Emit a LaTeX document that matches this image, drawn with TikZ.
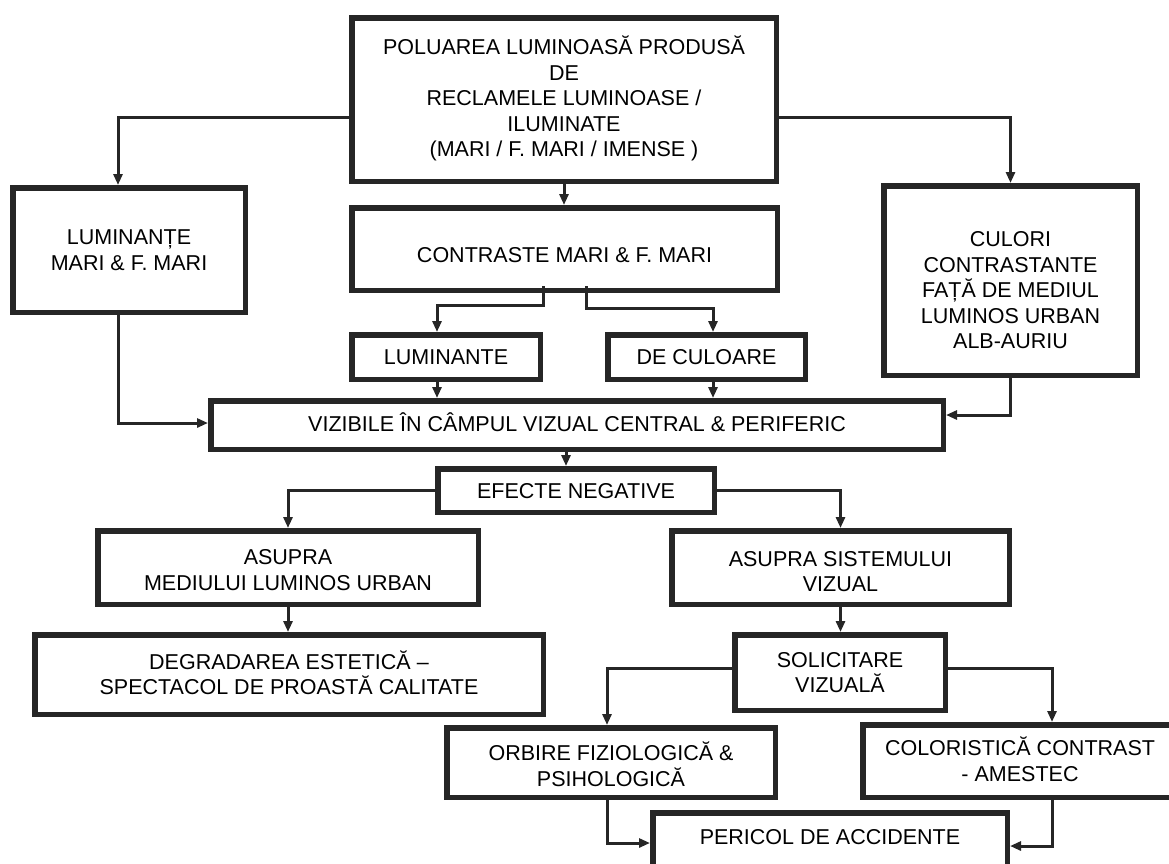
\documentclass[tikz,border=0pt]{standalone}
\usepackage{fontspec}
\setmainfont{Liberation Sans}
\usetikzlibrary{arrows.meta}
\newcommand\hs[1]{\rule{0pt}{#1pt}}
\newcommand\ds{\rule[-6pt]{0pt}{0pt}}
\tikzset{
  box/.style={draw=black!85, line width=5.5pt, inner sep=0pt, align=center,
    font=\fontsize{21.5pt}{25.5pt}\selectfont, text=black},
  arr/.style={draw=black!85, line width=3pt, -{Triangle[length=11pt,width=9pt]}}
}
\begin{document}
\begin{tikzpicture}[x=1pt,y=-1pt]
\useasboundingbox (0,0) rectangle (1169,863);
\fill[white] (0,0) rectangle (1169,863);

\node[box, minimum width=424.5pt, minimum height=163.5pt] (top) at (564,99.5)
  {\hs{17}POLUAREA LUMINOASĂ PRODUSĂ\\DE\\RECLAMELE LUMINOASE /\\ILUMINATE\\(MARI / F. MARI / IMENSE )\ds};
\node[box, minimum width=232.5pt, minimum height=124.5pt] (lum) at (129,250)
  {\hs{21}LUMINANȚE\\MARI \& F. MARI\ds};
\node[box, minimum width=253.5pt, minimum height=189.5pt] (cul) at (1010.5,280.5)
  {\hs{40}CULORI\\CONTRASTANTE\\FAȚĂ DE MEDIUL\\LUMINOS URBAN\\ALB-AURIU\ds};
\node[box, minimum width=425.5pt, minimum height=82.5pt] (contr) at (564.5,249)
  {\hs{33}CONTRASTE MARI \& F. MARI\ds};
\node[box, minimum width=188.5pt, minimum height=44.5pt] (lumte) at (446,357)
  {\hs{21}LUMINANTE\ds};
\node[box, minimum width=197.5pt, minimum height=44.5pt] (decul) at (706.5,357)
  {\hs{21}DE CULOARE\ds};
\node[box, minimum width=732.5pt, minimum height=48.5pt] (viz) at (577,425)
  {\hs{17}VIZIBILE ÎN CÂMPUL VIZUAL CENTRAL \& PERIFERIC\ds};
\node[box, minimum width=276.5pt, minimum height=43.5pt] (efe) at (576,490.5)
  {\hs{21}EFECTE NEGATIVE\ds};
\node[box, minimum width=380.5pt, minimum height=73.5pt] (asm) at (288,567.5)
  {\hs{26}ASUPRA\\MEDIULUI LUMINOS URBAN\ds};
\node[box, minimum width=337.5pt, minimum height=73.5pt] (ass) at (840.5,567.5)
  {\hs{29}ASUPRA SISTEMULUI\\VIZUAL\ds};
\node[box, minimum width=508.5pt, minimum height=79.5pt] (deg) at (289,674.5)
  {\hs{21}DEGRADAREA ESTETICĂ –\\SPECTACOL DE PROASTĂ CALITATE\ds};
\node[box, minimum width=210.5pt, minimum height=75.5pt] (sol) at (840,672.5)
  {\hs{21}SOLICITARE\\VIZUALĂ\ds};
\node[box, minimum width=328.5pt, minimum height=69.5pt] (orb) at (611,762.5)
  {\hs{28}ORBIRE FIZIOLOGICĂ \&\\PSIHOLOGICĂ\ds};
\node[box, minimum width=314.5pt, minimum height=72.5pt] (col) at (1020,761)
  {\hs{21}COLORISTICĂ CONTRAST\\- AMESTEC\ds};
\node[box, minimum width=354.5pt, minimum height=62.5pt] (per) at (830,844)
  {PERICOL DE ACCIDENTE\rule[-14pt]{0pt}{0pt}};

% connectors
\draw[arr] (top.west |- 0,117) -| (118,0 |- lum.north);
\draw[arr] (top.east |- 0,117) -| (cul.north);
\draw[arr] (top.south) -- (top.south |- contr.north);
\draw[arr] (543,0 |- contr.south) ++(0,-7) |- (437,305) -- (437,0 |- lumte.north);
\draw[arr] (586,0 |- contr.south) ++(0,-7) |- (713,308) -- (713,0 |- decul.north);
\draw[arr] (437,0 |- lumte.south) -- (437,0 |- viz.north);
\draw[arr] (713,0 |- decul.south) -- (713,0 |- viz.north);
\draw[arr] (118,0 |- lum.south) |- (viz.west |- 0,423);
\draw[arr] (cul.south) |- (viz.east |- 0,415);
\draw[arr] (566,0 |- viz.south) -- (566,0 |- efe.north);
\draw[arr] (efe.west) -| (asm.north);
\draw[arr] (efe.east) -| (ass.north);
\draw[arr] (asm.south) -- (asm.south |- deg.north);
\draw[arr] (ass.south) -- (ass.south |- sol.north);
\draw[arr] (sol.west |- 0,668) -| (607,0 |- orb.north);
\draw[arr] (sol.east |- 0,668) -| (1052,0 |- col.north);
\draw[arr] (607,0 |- orb.south) |- (per.west |- 0,843);
\draw[arr] (1052,0 |- col.south) |- (per.east |- 0,846);
\end{tikzpicture}
\end{document}
